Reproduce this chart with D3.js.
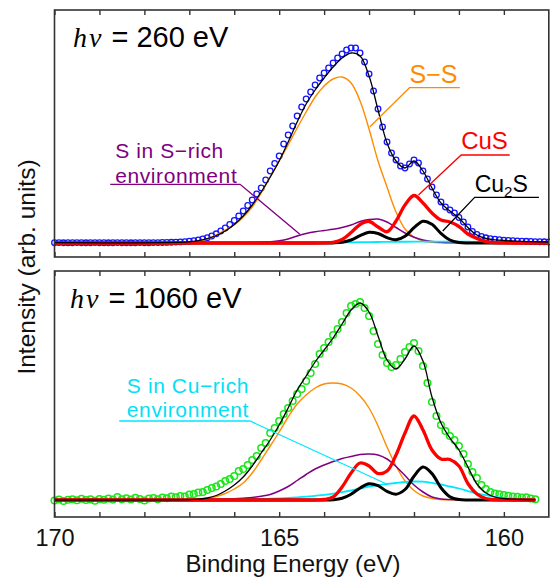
<!DOCTYPE html>
<html>
<head>
<meta charset="utf-8">
<script src="https://cdn.jsdelivr.net/npm/d3@7"></script>
<style>
  body { margin: 0; background: #fff; }
  svg text { font-family: "Liberation Sans", Arial, sans-serif; }
</style>
</head>
<body>
<div id="chart"></div>
<script>
// =====================
// DATA (intensity in arb. units, 0 = background)
// =====================

// binding energies of the fitted-curve samples (eV); last point is the panel end
const curveE = [170, 167.0, 166.8, 166.6, 166.4, 166.2, 166.0, 165.8, 165.6, 165.4,
  165.2, 165.0, 164.8, 164.6, 164.4, 164.2, 164.0, 163.8, 163.6, 163.4,
  163.2, 163.0, 162.8, 162.6, 162.4, 162.2, 162.0, 161.8, 161.6, 161.4,
  161.2, 161.0, 160.8, 160.6, 160.4, 160.2, 160.0, 159.8, 159.6, 159.4];
const topEndE = 159.0;
const botEndE = 159.3;

// hv = 260 eV
const ssTop = [0, 0, 1, 4, 8, 13, 18, 26, 36, 50, 66, 82, 98, 115, 131, 146, 157, 164, 166, 160,
  142, 114, 82, 56, 31, 14, 6, 2, 0.6, 0.2, 0, 0, 0, 0, 0, 0, 0, 0, 0, 0, 0];
const sRichTop = [0, 0, 0, 0, 0, 0.1, 0.2, 0.3, 0.5, 0.8, 1.3, 2.2, 4, 7, 9.5, 11.3, 12.5, 13.7, 15.5, 18,
  21.5, 23.5, 24, 21, 15.5, 10, 5.8, 3, 1.5, 0.8, 0.4, 0.2, 0.1, 0, 0, 0, 0, 0, 0, 0, 0];
const cuRichTop = [0, 0.05, 0.05, 0.1, 0.1, 0.1, 0.15, 0.15, 0.2, 0.2, 0.25, 0.3, 0.3, 0.35, 0.4, 0.45, 0.5, 0.55, 0.6, 0.7,
  0.8, 0.9, 1.0, 1.1, 1.2, 1.25, 1.3, 1.35, 1.4, 1.4, 1.35, 1.3, 1.25, 1.2, 1.1, 1.0, 0.95, 0.9, 0.8, 0.75, 0.65];
const cusTop = [0, 0, 0, 0, 0, 0, 0, 0, 0, 0, 0, 0, 0, 0, 0, 0, 0.2, 0.7, 3.5, 10.5,
  18.5, 21.5, 16, 11.3, 22, 38, 47.5, 40, 30, 23, 21, 16.5, 9, 4.6, 1.4, 0.4, 0.1, 0, 0, 0, 0];
const cu2sTop = [0, 0, 0, 0, 0, 0, 0, 0, 0, 0, 0, 0, 0, 0, 0, 0, 0, 0.1, 0.75, 3.0,
  7.4, 10.8, 9.5, 5.3, 3.2, 6.7, 15.3, 21.8, 18.7, 9.6, 3.0, 0.55, 0.05, 0, 0, 0, 0, 0, 0, 0, 0];
const fitTop = [0.3, 1.2, 2.4, 4.3, 7.5, 12, 18.5, 27, 38, 51, 66, 82, 101, 121, 139, 153, 165, 176, 185, 190,
  187, 167, 133, 100, 82, 75, 82, 72, 55, 40, 32, 25, 15.5, 8, 4.5, 3.2, 2.5, 2.0, 1.6, 1.3, 1.0];
// measured points, 0.1 eV steps from 170 eV
const measTop = [0.3, 0.4, 0.2, 0.3, 0.3, 0.4, 0.3, 0.2, 0.3, 0.4, 0.3, 0.3, 0.2, 0.3, 0.4, 0.3, 0.3, 0.2, 0.3, 0.4,
  0.3, 0.3, 0.4, 0.4, 0.5,
  0.6, 0.7, 0.9, 1.1, 1.4, 1.8, 2.3, 3.0, 4.0, 5.3,
  7.0, 9.2, 12, 15, 18.5, 22.5, 27, 32, 37.5, 43,
  49, 55, 63, 72, 79.5, 87, 99, 108, 117, 127,
  136, 144, 151, 158, 165, 170, 175, 180, 185, 189,
  193, 195, 195, 190, 181, 169, 152, 134, 116, 101,
  90, 83, 77, 75, 79, 83, 80, 72, 64, 56,
  48, 41, 36, 33, 30, 25.5, 21, 16, 11.5, 8.5,
  6.5, 5.2, 4.4, 3.8, 3.3, 2.9, 2.6, 2.3, 2.1, 1.9,
  1.7, 1.5, 1.4, 1.3, 1.2, 1.1];

// hv = 1060 eV
const ssBot = [0, 0, 0.5, 1.5, 3.5, 6.5, 11, 17, 27, 40, 54, 68, 83, 96, 105, 112, 116, 117, 116, 112,
  104, 92, 74, 53, 34, 19, 9.5, 4, 1.5, 0.5, 0.1, 0, 0, 0, 0, 0, 0, 0, 0, 0, 0];
const sRichBot = [0, 0, 0.1, 0.3, 0.5, 0.8, 1.2, 1.8, 2.5, 3.7, 5.5, 9, 13.5, 19.5, 25.5, 31, 35, 38.5, 41.5, 43.5,
  45.5, 46, 45, 41, 33.5, 24.5, 15, 8, 3, 1, 0.4, 0.2, 0.1, 0.1, 0.1, 0.1, 0.1, 0.1, 0.1, 0.1, 0.1];
const cuRichBot = [0, 0, 0.1, 0.2, 0.3, 0.4, 0.5, 0.7, 0.85, 1.0, 1.3, 1.6, 2.0, 2.6, 3.3, 4.2, 5.2, 6.3, 7.8, 9.5,
  11.5, 13.5, 15, 16, 17, 18, 18.5, 18.3, 17.2, 15.5, 13.5, 11.5, 9, 6.7, 4.8, 3.2, 2.2, 1.5, 1.1, 0.8, 0.6];
const cusBot = [0, 0, 0, 0, 0, 0, 0, 0, 0, 0, 0, 0, 0, 0, 0, 0, 0.5, 3, 13, 27,
  37, 34, 26.5, 29, 45, 67, 84, 70, 50, 41, 40.5, 34, 16.5, 6, 1.5, 0.3, 0.1, 0, 0, 0, 0];
const cu2sBot = [0, 0, 0, 0, 0, 0, 0, 0, 0, 0, 0, 0, 0, 0, 0, 0, 0, 0.3, 1.7, 5.8,
  12, 16.3, 14.3, 8.6, 5.8, 10.5, 23.7, 33, 26.4, 12.3, 3.3, 0.5, 0.05, 0, 0, 0, 0, 0, 0, 0, 0];
const fitBot = [0, 0.3, 0.8, 2, 4.5, 9, 15, 23, 34, 47, 60, 75, 92, 110, 124, 138, 150, 162, 176, 190,
  197, 188, 164, 140, 131, 141, 154, 139, 103, 77, 62, 50, 33, 16, 7, 3, 1.5, 0.8, 0.5, 0.4, 0.3];
const measBot = [-0.5, 0.5, -1.0, 0.3, 0.8, -0.2, 1.2, 0.0, 0.6, -0.8,
  1.0, 0.2, 1.5, 0.4, 3.0, 0.8, 1.8, 0.5, 2.2, 1.0,
  -0.5, 1.5, 2.0, 0.8, 2.5, 1.8, 3.5, 2.8, 4.0, 3.5,
  5.5, 6.0, 7.5, 8.0, 10, 12, 13.5, 16, 19, 21,
  24, 29, 31, 35, 40, 44, 52, 57, 67, 72,
  79, 86, 92, 99, 106, 111, 119, 127, 136, 146,
  152, 158, 165, 171, 178, 187, 194, 196, 198, 192,
  184, 169, 156, 145, 137, 133, 135, 141, 148, 153,
  157, 149, 134, 117, 98, 84, 75, 69, 64, 60,
  54, 46, 36, 28, 22, 15, 11, 8, 6.5, 5.8,
  5.0, 4.2, 3.5, 3.3, 2.5, 2.7, 1.5, 0.8];

const tickE = [170, 169, 168, 167, 166, 165, 164, 163, 162, 161, 160];
const tickLabels = [170, 165, 160];

// =====================
// SETUP
// =====================
const width = 550, height = 577;
const frameColor = "#333";
const serif = '"Liberation Serif", "Times New Roman", serif';

const svg = d3.select("#chart").append("svg")
  .attr("width", width)
  .attr("height", height);

const x = d3.scaleLinear().domain([170, 159]).range([54.5, 548.8]);

const panels = [
  {
    top: 10, bottom: 257, yDomain: [-14, 233], endE: topEndE,
    photon: "260", hvX: 73,
    meas: measTop, markColor: "#1414ff", markR: 2.8, markW: 1.3,
    ss: ssTop, sRich: sRichTop, cuRich: cuRichTop, cus: cusTop, cu2s: cu2sTop, fit: fitTop,
    labels: false
  },
  {
    top: 271, bottom: 517, yDomain: [-17, 229], endE: botEndE,
    photon: "1060", hvX: 70,
    meas: measBot, markColor: "#18e618", markR: 3.3, markW: 1.5,
    ss: ssBot, sRich: sRichBot, cuRich: cuRichBot, cus: cusBot, cu2s: cu2sBot, fit: fitBot,
    labels: true
  }
];

panels.forEach(p => {
  const y = d3.scaleLinear().domain(p.yDomain).range([p.bottom, p.top]);
  p.y = y;
  const energies = curveE.concat(p.endE);
  const line = d3.line()
    .x(d => x(d[0]))
    .y(d => y(d[1]))
    .curve(d3.curveCatmullRom.alpha(0.5));
  const pts = vals => vals.map((v, i) => [energies[i], v]);

  // measured points
  svg.append("g").selectAll("circle")
    .data(p.meas)
    .join("circle")
    .attr("cx", (d, i) => x(170 - i * 0.1))
    .attr("cy", d => y(d))
    .attr("r", p.markR)
    .attr("fill", "none")
    .attr("stroke", p.markColor)
    .attr("stroke-width", p.markW);

  // fitted components
  const comps = [
    { vals: p.ss, color: "#ff8c00", w: 1.4 },
    { vals: p.sRich, color: "#800080", w: 1.5 },
    { vals: p.cuRich, color: "#00e8ff", w: 1.8 },
    { vals: p.cu2s, color: "#000", w: 3 },
    { vals: p.cus, color: "#ff0000", w: 3.3 },
    { vals: p.fit, color: "#000", w: 1.3 }
  ];
  comps.forEach(c => {
    svg.append("path")
      .datum(pts(c.vals))
      .attr("d", line)
      .attr("fill", "none")
      .attr("stroke", c.color)
      .attr("stroke-width", c.w)
      .attr("stroke-linejoin", "round");
  });

  // frame + inward ticks
  svg.append("rect")
    .attr("x", x(170)).attr("y", p.top)
    .attr("width", x(159) - x(170)).attr("height", p.bottom - p.top)
    .attr("fill", "none").attr("stroke", frameColor).attr("stroke-width", 1.6);

  const bottomAxis = svg.append("g")
    .attr("transform", `translate(0,${p.bottom})`)
    .call(d3.axisBottom(x).tickValues(tickE).tickSizeInner(-5).tickSizeOuter(0).tickPadding(12)
      .tickFormat(d => p.labels && tickLabels.includes(d) ? d : ""));
  const topAxis = svg.append("g")
    .attr("transform", `translate(0,${p.top})`)
    .call(d3.axisTop(x).tickValues(tickE).tickSizeInner(-5).tickSizeOuter(0).tickFormat(() => ""));
  [bottomAxis, topAxis].forEach(g => {
    g.select(".domain").remove();
    g.selectAll(".tick line").attr("stroke", frameColor).attr("stroke-width", 1.4);
    g.selectAll(".tick text")
      .attr("fill", "#111")
      .style("font-size", "23.5px")
      .style("font-family", '"Liberation Sans", Arial, sans-serif');
  });

  // photon energy label
  const hv = svg.append("text")
    .attr("x", p.hvX)
    .attr("y", p.top + 37)
    .attr("fill", "#000")
    .style("font-size", "28px");
  hv.append("tspan").style("font-family", serif).style("font-style", "italic").text("h");
  hv.append("tspan").style("font-family", serif).style("font-style", "italic").attr("dx", 2).text("ν");
  hv.append("tspan").attr("dx", 10).style("font-size", "29px").text("= " + p.photon + " eV");
});

// =====================
// ANNOTATIONS (positions in eV / intensity units)
// =====================
function leader(y, color, ulStart, e, ulH, tip) {
  svg.append("path")
    .attr("d", d3.line()([[x(ulStart), y(ulH)], [x(e), y(ulH)], [x(tip[0]), y(tip[1])]]))
    .attr("fill", "none")
    .attr("stroke", color)
    .attr("stroke-width", 1.3);
}

function twoLines(y, color, size, e, lines) {
  const t = svg.append("text")
    .attr("x", x(e)).attr("y", y(lines[0][1]))
    .attr("fill", color)
    .style("font-size", size + "px")
    .style("letter-spacing", "0.6px");
  lines.forEach(([txt, h], i) => {
    t.append("tspan")
      .attr("x", x(e))
      .attr("dy", i === 0 ? 0 : y(h) - y(lines[i - 1][1]))
      .text(txt);
  });
}

const [pt, pb] = panels;

// S in S-rich environment (purple)
leader(pt.y, "#800080", 168.76, 165.87, 58.7, [164.54, 8.7]);
twoLines(pt.y, "#800080", 21, 168.65, [["S in S\u2212rich", 85], ["environment", 60.5]]);

// S-S (orange)
leader(pt.y, "#ff8c00", 160.98, 162.10, 155.3, [162.98, 116.3]);
svg.append("text").attr("x", x(162.10)).attr("y", pt.y(159.7))
  .attr("fill", "#ff8c00").style("font-size", "25px").text("S\u2212S");

// CuS (red)
leader(pt.y, "#ff0000", 159.87, 160.95, 88, [161.90, 48]);
svg.append("text").attr("x", x(160.95)).attr("y", pt.y(94))
  .attr("fill", "#ff0000").style("font-size", "24px").text("CuS");

// Cu2S (black)
leader(pt.y, "#000", 159.22, 160.65, 45.7, [161.36, 12]);
const cu2sLabel = svg.append("text").attr("x", x(160.65)).attr("y", pt.y(51.3))
  .attr("fill", "#000").style("font-size", "23px");
cu2sLabel.append("tspan").text("Cu");
cu2sLabel.append("tspan").style("font-size", "15px").attr("dy", 5).text("2");
cu2sLabel.append("tspan").attr("dy", -5).text("S");

// S in Cu-rich environment (cyan)
leader(pb.y, "#00e8ff", 168.56, 165.65, 79, [162.61, 16]);
twoLines(pb.y, "#00e0f8", 21, 168.39, [["S in Cu\u2212rich", 107.5], ["environment", 83]]);

// =====================
// AXIS TITLES
// =====================
svg.append("text")
  .attr("x", 293)
  .attr("y", 572)
  .attr("text-anchor", "middle")
  .attr("fill", "#111")
  .style("font-size", "24px")
  .text("Binding Energy (eV)");

svg.append("text")
  .attr("transform", "rotate(-90)")
  .attr("x", -267)
  .attr("y", 35)
  .attr("text-anchor", "middle")
  .attr("fill", "#111")
  .style("font-size", "24.5px")
  .text("Intensity (arb. units)");
</script>
</body>
</html>
